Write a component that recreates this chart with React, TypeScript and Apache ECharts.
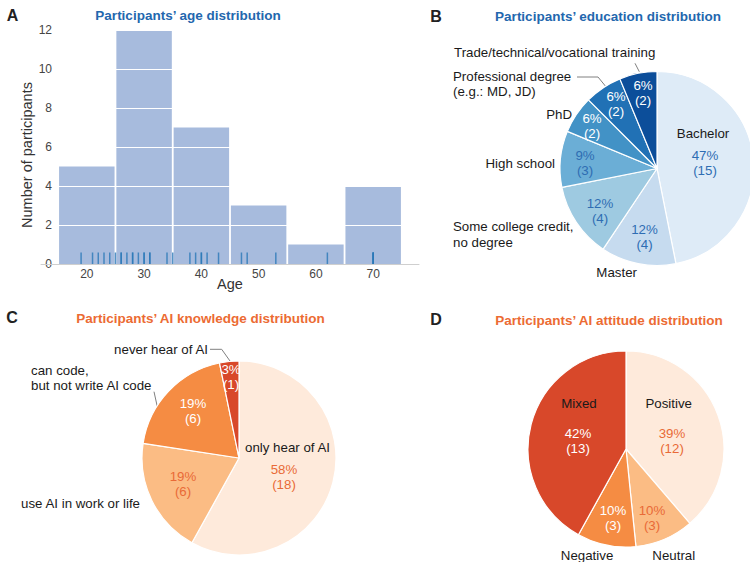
import React, { useEffect, useRef } from "react";
import * as echarts from "echarts";

const FONT = '"Liberation Sans", Arial, Helvetica, sans-serif';

// ---------- Panel A: age histogram ----------
const ageBinEdges = [15, 25, 35, 45, 55, 65, 75];
const ageBinCounts = [5, 12, 7, 3, 1, 4];
const participantAges = [
  19, 21, 22, 23, 24,
  25, 26, 26, 27, 28, 28, 29, 30, 30, 31, 31, 34,
  35, 38, 39, 40, 40, 41, 43,
  47, 48, 53,
  62,
  70, 70, 70, 70,
];
const ageTickLabels = [20, 30, 40, 50, 60, 70];

// ---------- Panel B: education ----------
const eduCategories = [
  "Bachelor",
  "Master",
  "Some college credit,\nno degree",
  "High school",
  "PhD",
  "Professional degree\n(e.g.: MD, JD)",
  "Trade/technical/vocational training",
];
const eduCounts = [15, 4, 4, 3, 2, 2, 2];

// ---------- Panel C: AI knowledge ----------
const knowCategories = [
  "only hear of AI",
  "use AI in work or life",
  "can code,\nbut not write AI code",
  "never hear of AI",
];
const knowCounts = [18, 6, 6, 1];

// ---------- Panel D: AI attitude ----------
const attCategories = ["Positive", "Neutral", "Negative", "Mixed"];
const attCounts = [12, 3, 3, 13];

// ---------- styles ----------
const eduColors = ["#deebf7", "#c6dbef", "#9ecae1", "#6baed6", "#4292c6", "#2171b5", "#0c4e9a"];
const eduPctColors = ["#2e6db3", "#2e6db3", "#2e6db3", "#2e6db3", "#ffffff", "#ffffff", "#ffffff"];
const orangeColors = ["#feeadb", "#fbbc84", "#f58c43", "#d8482a"];
const orangePctColors = ["#e96a37", "#e96a37", "#ffffff", "#ffffff"];
const attColors = ["#feeadb", "#fbbc84", "#f58c43", "#d8482a"];
const attPctColors = ["#e96a37", "#e96a37", "#ffffff", "#ffffff"];

type Place = { dx: number; dy: number; align?: string; line?: number[][] };

// label placements relative to each pie centre
const eduNamePlaces: Place[] = [
  { dx: 46, dy: -35.5, align: "center" },
  { dx: -20, dy: 103.5, align: "right" },
  { dx: -204, dy: 66, align: "left" },
  { dx: -102, dy: -5.5, align: "right" },
  { dx: -85, dy: -54.5, align: "right" },
  { dx: -204, dy: -84.5, align: "left", line: [[-80, -91.5], [-59, -91.5], [-50, -80.5]] },
  { dx: -203, dy: -116.5, align: "left", line: [[-22, -105.2], [-17.7, -96.8]] },
];
const eduPctPlaces: Place[] = [
  { dx: 48, dy: -5.5 },
  { dx: -12.5, dy: 68.5 },
  { dx: -57, dy: 42 },
  { dx: -72, dy: -6 },
  { dx: -65, dy: -42.5 },
  { dx: -41, dy: -64.5 },
  { dx: -14, dy: -76 },
];
const knowNamePlaces: Place[] = [
  { dx: 6, dy: -11, align: "left" },
  { dx: -99, dy: 45, align: "right" },
  { dx: -208, dy: -80, align: "left", line: [[-85, -66.3], [-81.7, -51.3]] },
  { dx: -31, dy: -108.7, align: "right", line: [[-29, -108.7], [-17.3, -108.7], [-9, -97]] },
];
const knowPctPlaces: Place[] = [
  { dx: 45, dy: 18.8 },
  { dx: -56, dy: 26 },
  { dx: -46, dy: -47 },
  { dx: -8, dy: -81 },
];
const attNamePlaces: Place[] = [
  { dx: 42.7, dy: -45.7, align: "center" },
  { dx: 26.3, dy: 106, align: "left" },
  { dx: -12.7, dy: 106, align: "right" },
  { dx: -47, dy: -45.7, align: "center" },
];
const attPctPlaces: Place[] = [
  { dx: 46, dy: -7.7 },
  { dx: 26, dy: 69 },
  { dx: -13, dy: 69 },
  { dx: -48, dy: -8 },
];

function roundHalfEven(x: number) {
  const f = Math.floor(x);
  const d = x - f;
  if (Math.abs(d - 0.5) < 1e-9) return f % 2 === 0 ? f : f + 1;
  return Math.round(x);
}

function makeLayout(cx: number, cy: number, places: Place[]) {
  return (p: any) => {
    const pl = places[p.dataIndex];
    if (!pl) return {};
    const out: any = {
      x: cx + pl.dx,
      y: cy + pl.dy,
      align: pl.align || "center",
      verticalAlign: "middle",
    };
    if (pl.line) out.labelLinePoints = pl.line.map(([a, b]) => [cx + a, cy + b]);
    return out;
  };
}

function pieSeries(
  cx: number,
  cy: number,
  r: number,
  names: string[],
  counts: number[],
  colors: string[],
  pctColors: string[],
  namePlaces: Place[],
  pctPlaces: Place[]
) {
  const total = counts.reduce((a, b) => a + b, 0);
  const main = {
    type: "pie",
    center: [cx, cy],
    radius: r,
    startAngle: 90,
    clockwise: true,
    avoidLabelOverlap: false,
    silent: true,
    z: 2,
    itemStyle: { borderColor: "#ffffff", borderWidth: 1.2 },
    label: {
      show: true,
      position: "inside",
      color: "#1a1a1a",
      fontSize: 13.3,
      fontFamily: FONT,
      lineHeight: 15.5,
      formatter: "{b}",
    },
    labelLine: { show: false },
    labelLayout: makeLayout(cx, cy, namePlaces),
    data: names.map((n, i) => {
      const item: any = { name: n, value: counts[i], itemStyle: { color: colors[i] } };
      if (namePlaces[i].line) {
        item.label = { position: "outside" };
        item.labelLine = {
          show: true,
          length: 5,
          length2: 5,
          smooth: false,
          lineStyle: { color: "#808080", width: 1 },
        };
      }
      return item;
    }),
  };
  const overlay = {
    type: "pie",
    center: [cx, cy],
    radius: r,
    startAngle: 90,
    clockwise: true,
    avoidLabelOverlap: false,
    silent: true,
    z: 3,
    itemStyle: { color: "rgba(0,0,0,0)", borderWidth: 0 },
    label: {
      show: true,
      position: "inside",
      fontSize: 13.3,
      fontFamily: FONT,
      lineHeight: 15,
      formatter: (p: any) => `${roundHalfEven((p.value / total) * 100)}%\n(${p.value})`,
    },
    labelLine: { show: false },
    labelLayout: makeLayout(cx, cy, pctPlaces),
    data: names.map((n, i) => ({
      name: n,
      value: counts[i],
      label: { color: pctColors[i] },
    })),
  };
  return [main, overlay];
}

const BLUE = "#2367ae";
const ORANGE = "#ec6b33";

function titleText(x: number, y: number, text: string, color: string) {
  return {
    type: "text",
    x,
    y,
    style: {
      text,
      fill: color,
      fontSize: 13.5,
      fontWeight: "bold",
      fontFamily: FONT,
      align: "center",
      verticalAlign: "middle",
    },
  };
}
function letterText(x: number, y: number, text: string) {
  return {
    type: "text",
    x,
    y,
    style: {
      text,
      fill: "#222222",
      fontSize: 16,
      fontWeight: "bold",
      fontFamily: FONT,
      align: "center",
      verticalAlign: "middle",
    },
  };
}

export default function App() {
  const ref = useRef<HTMLDivElement>(null);
  useEffect(() => {
    document.body.style.margin = "0";
    if (!ref.current) return;
    const chart = echarts.init(ref.current, undefined, { renderer: "svg" });

    const histData = ageBinCounts.map((c, i) => [ageBinEdges[i], ageBinEdges[i + 1], c]);
    const rugData = participantAges.map((a) => [a, 0]);

    const option: any = {
      animation: false,
      backgroundColor: "#ffffff",
      textStyle: { fontFamily: FONT },
      grid: [{ left: 41, top: 30, width: 378, height: 234, outerBoundsMode: "none" }],
      xAxis: [
        {
          type: "value",
          gridIndex: 0,
          min: 12,
          max: 78,
          interval: 2,
          z: 12,
          axisLine: { show: true, onZero: true, lineStyle: { color: "#cfcfcf", width: 1 } },
          axisTick: { show: false },
          splitLine: { show: false },
          axisLabel: {
            margin: 4,
            color: "#444444",
            fontSize: 12,
            fontFamily: FONT,
            formatter: (v: number) => (ageTickLabels.includes(v) ? String(v) : ""),
          },
          name: "Age",
          nameLocation: "middle",
          nameGap: 12,
          nameMoveOverlap: false,
          nameTextStyle: { color: "#333333", fontSize: 14.5, fontFamily: FONT },
        },
      ],
      yAxis: [
        {
          type: "value",
          gridIndex: 0,
          min: 0,
          max: 12,
          interval: 2,
          z: 10,
          axisLine: { show: false },
          axisTick: { show: false },
          splitLine: { show: true, lineStyle: { color: "#ffffff", width: 1.2 } },
          axisLabel: { margin: -11, color: "#444444", fontSize: 12, fontFamily: FONT },
          name: "Number of participants",
          nameLocation: "middle",
          nameGap: 7,
          nameMoveOverlap: false,
          nameTextStyle: { color: "#333333", fontSize: 14.5, fontFamily: FONT, padding: [0, 16, 0, 0] },
        },
      ],
      graphic: [
        letterText(12.5, 15.5, "A"),
        letterText(436, 16, "B"),
        letterText(12, 317.5, "C"),
        letterText(436, 319, "D"),
        titleText(188, 15, "Participants\u2019 age distribution", BLUE),
        titleText(608, 16, "Participants\u2019 education distribution", BLUE),
        titleText(200.5, 318.3, "Participants\u2019 AI knowledge distribution", ORANGE),
        titleText(609, 320, "Participants\u2019 AI attitude distribution", ORANGE),
      ],
      series: [
        {
          type: "custom",
          xAxisIndex: 0,
          yAxisIndex: 0,
          z: 2,
          silent: true,
          encode: { x: [0, 1], y: 2 },
          data: histData,
          renderItem: (_params: any, api: any) => {
            const x0 = api.value(0);
            const x1 = api.value(1);
            const c = api.value(2);
            const p0 = api.coord([x0, c]);
            const p1 = api.coord([x1, 0]);
            return {
              type: "rect",
              shape: { x: p0[0] + 0.9, y: p0[1], width: p1[0] - p0[0] - 1.8, height: p1[1] - p0[1] },
              style: { fill: "#a7bbdd" },
            };
          },
        },
        {
          type: "custom",
          xAxisIndex: 0,
          yAxisIndex: 0,
          z: 3,
          silent: true,
          encode: { x: 0, y: 1 },
          data: rugData,
          renderItem: (_params: any, api: any) => {
            const p = api.coord([api.value(0), api.value(1)]);
            return {
              type: "line",
              shape: { x1: p[0], y1: p[1], x2: p[0], y2: p[1] - 11.5 },
              style: { stroke: "#2a78b8", lineWidth: 1.5, opacity: 0.8 },
            };
          },
        },
        ...pieSeries(657, 168.5, 97, eduCategories, eduCounts, eduColors, eduPctColors, eduNamePlaces, eduPctPlaces),
        ...pieSeries(239, 458, 97, knowCategories, knowCounts, orangeColors, orangePctColors, knowNamePlaces, knowPctPlaces),
        ...pieSeries(626, 449, 98, attCategories, attCounts, attColors, attPctColors, attNamePlaces, attPctPlaces),
      ],
    };
    chart.setOption(option);
    return () => chart.dispose();
  }, []);
  return <div ref={ref} style={{ width: 750, height: 562 }} />;
}
